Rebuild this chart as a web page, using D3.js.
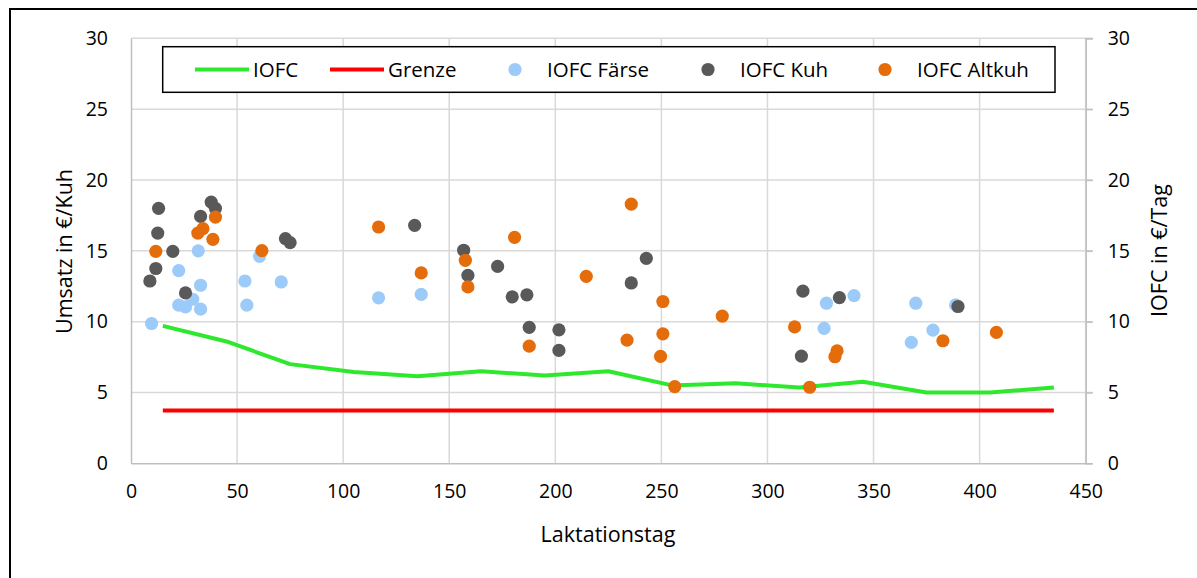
<!DOCTYPE html>
<html><head><meta charset="utf-8">
<script src="https://cdn.jsdelivr.net/npm/d3@7"></script>
<style>
html,body{margin:0;padding:0;background:#fff;}
svg{display:block;font-family:"Open Sans","Noto Sans",sans-serif;}
</style></head>
<body><svg id="c" width="1197" height="578"></svg>
<script>
// ---- data ----
const xTicks = [0,50,100,150,200,250,300,350,400,450];
const yTicks = [0,5,10,15,20,25,30];
const iofcDays   = [15,45,75,105,135,165,195,225,255,285,315,345,375,405,435];
const iofcValues = [9.7,8.6,7.0,6.45,6.15,6.5,6.2,6.5,5.5,5.65,5.35,5.75,5.0,5.0,5.35];
const grenzeDays   = [15,435];
const grenzeValues = [3.72,3.72];
const faerseDays = [9.7,22.5,31.7,32.8,29.1,22.5,25.7,32.8,60.6,53.7,70.8,54.6,116.7,136.8,327.8,340.8,326.7,369.9,388.7,378,367.8];
const faerseVals = [9.87,13.6,15.0,12.57,11.58,11.16,11.04,10.88,14.61,12.87,12.8,11.16,11.68,11.92,11.3,11.84,9.52,11.3,11.18,9.4,8.54];
const kuhDays = [13.0,12.6,19.7,11.7,8.9,25.7,32.8,37.8,39.8,72.8,75.0,133.7,156.8,158.8,172.8,179.7,186.6,187.7,201.7,201.7,235.8,242.9,316.7,316,333.9,389.8];
const kuhVals = [18.0,16.25,14.96,13.75,12.87,12.03,17.43,18.44,18.0,15.86,15.58,16.8,15.04,13.27,13.9,11.75,11.89,9.59,9.42,7.97,12.73,14.47,12.15,7.57,11.7,11.07];
const altDays = [11.7,39.8,33.9,31.5,38.6,61.7,116.7,136.8,157.6,158.8,180.8,187.7,214.6,235.8,233.8,250.7,250.7,249.6,256.3,278.7,312.8,319.9,332.8,331.8,382.7,407.9];
const altVals = [14.96,17.38,16.56,16.25,15.81,15.01,16.68,13.44,14.33,12.45,15.95,8.27,13.2,18.3,8.7,11.42,9.14,7.55,5.41,10.39,9.63,5.37,7.94,7.52,8.65,9.24];
const legendLabels = ["IOFC","Grenze","IOFC Färse","IOFC Kuh","IOFC Altkuh"];

// ---- chart ----
const svg = d3.select("#c");
const X0 = 131, X1 = 1085.7, Y0 = 463.3, Y1 = 38.3;
const x = d3.scaleLinear().domain([0,450]).range([X0,X1]);
const y = d3.scaleLinear().domain([0,30]).range([Y0,Y1]);
const COL = {iofc:"#2ee82e", grenze:"#ff0000", faerse:"#9ccbfa", kuh:"#595959", alt:"#e46c0a"};
const FS = 19.5, FT = 21.5, FL = 20.5;

svg.append("rect").attr("x",10).attr("y",9).attr("width",1200).attr("height",600)
  .attr("fill","#fff").attr("stroke","#000").attr("stroke-width",2);

// grid
const grid = svg.append("g");
grid.selectAll("line.h").data(yTicks.filter(d=>d>0)).join("line")
  .attr("x1",X0).attr("x2",X1+7).attr("y1",d=>y(d)).attr("y2",d=>y(d))
  .attr("stroke","#d9d9d9").attr("stroke-width",1.5);
grid.selectAll("line.v").data(xTicks.filter(d=>d>0)).join("line")
  .attr("x1",d=>x(d)).attr("x2",d=>x(d)).attr("y1",Y1).attr("y2",Y0)
  .attr("stroke","#d9d9d9").attr("stroke-width",1.5);

// axes
const axL = svg.append("g").attr("transform",`translate(${X0},0)`)
  .call(d3.axisLeft(y).tickValues(yTicks).tickSize(0).tickPadding(23));
const axR = svg.append("g").attr("transform",`translate(${X1},0)`)
  .call(d3.axisRight(y).tickValues(yTicks).tickSize(7).tickPadding(15));
const axB = svg.append("g").attr("transform",`translate(0,${Y0})`)
  .call(d3.axisBottom(x).tickValues(xTicks).tickSize(0).tickPadding(21));
[axL,axR,axB].forEach(a=>{
  a.select(".domain").attr("stroke","#bfbfbf").attr("stroke-width",1.5);
  a.selectAll(".tick line").attr("stroke","#bfbfbf").attr("stroke-width",1.5);
  a.selectAll("text").attr("font-size",FS).attr("fill","#000").attr("font-family","Open Sans");
});
axB.selectAll(".tick line").remove();

// titles
svg.append("text").attr("transform","translate(64,251.5) rotate(-90)").attr("text-anchor","middle")
  .attr("dy","0.35em").attr("font-size",FT).text("Umsatz in €/Kuh");
svg.append("text").attr("transform","translate(1159,250.5) rotate(-90)").attr("text-anchor","middle")
  .attr("dy","0.35em").attr("font-size",FT).text("IOFC in €/Tag");
svg.append("text").attr("x",608).attr("y",534).attr("text-anchor","middle")
  .attr("dy","0.35em").attr("font-size",FT).text("Laktationstag");

// lines
const line = d3.line().x(d=>x(d[0])).y(d=>y(d[1]));
svg.append("path").datum(d3.zip(iofcDays,iofcValues)).attr("d",line)
  .attr("fill","none").attr("stroke",COL.iofc).attr("stroke-width",4).attr("stroke-linejoin","round");
svg.append("path").datum(d3.zip(grenzeDays,grenzeValues)).attr("d",line)
  .attr("fill","none").attr("stroke",COL.grenze).attr("stroke-width",4);

// points
const R = 6.6;
function pts(days, vals, c){
  svg.append("g").selectAll("circle").data(d3.zip(days,vals)).join("circle")
    .attr("cx",d=>x(d[0])).attr("cy",d=>y(d[1])).attr("r",R).attr("fill",c);
}
pts(faerseDays,faerseVals,COL.faerse);
pts(kuhDays,kuhVals,COL.kuh);
pts(altDays,altVals,COL.alt);

// legend
const lg = svg.append("g");
lg.append("rect").attr("x",162.7).attr("y",46.7).attr("width",892.3).attr("height",45.6)
  .attr("fill","#fff").attr("stroke","#000").attr("stroke-width",1.5);
const ly = 69.5;
const items = [
  {t:"line",c:COL.iofc,x0:195,x1:249,tx:253},
  {t:"line",c:COL.grenze,x0:330,x1:384,tx:388},
  {t:"dot",c:COL.faerse,cx:515,tx:547},
  {t:"dot",c:COL.kuh,cx:708,tx:740},
  {t:"dot",c:COL.alt,cx:885,tx:917}
];
items.forEach((it,i)=>{
  if(it.t==="line") lg.append("line").attr("x1",it.x0).attr("x2",it.x1).attr("y1",ly).attr("y2",ly)
     .attr("stroke",it.c).attr("stroke-width",4);
  else lg.append("circle").attr("cx",it.cx).attr("cy",ly).attr("r",R).attr("fill",it.c);
  lg.append("text").attr("x",it.tx).attr("y",ly).attr("dy","0.35em").attr("font-size",FL)
    .text(legendLabels[i]);
});
</script></body></html>
